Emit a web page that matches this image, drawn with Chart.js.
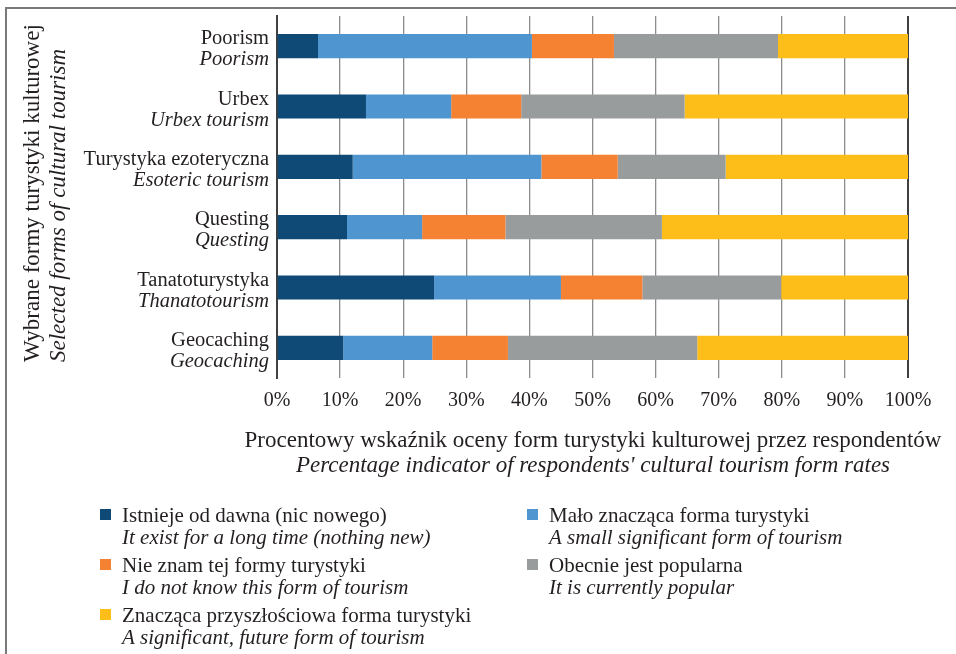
<!DOCTYPE html>
<html>
<head>
<meta charset="utf-8">
<script src="https://cdn.jsdelivr.net/npm/chart.js@4/dist/chart.umd.min.js"></script>
<style>
    html, body { margin: 0; padding: 0; background: #fff; }
</style>
</head>
<body>
<canvas id="formsChart" width="956" height="654"></canvas>
<script>
// Categories (Polish / English)
const categoriesPl = ['Poorism', 'Urbex', 'Turystyka ezoteryczna', 'Questing', 'Tanatoturystyka', 'Geocaching'];
const categoriesEn = ['Poorism', 'Urbex tourism', 'Esoteric tourism', 'Questing', 'Thanatotourism', 'Geocaching'];

// Series values (% of respondents)
const existsLongTime = [6.5, 14.1, 12.0, 11.1, 24.9, 10.5];
const smallSignificant = [33.9, 13.5, 29.9, 11.9, 20.1, 14.1];
const dontKnow = [13.0, 11.1, 12.1, 13.2, 12.9, 12.0];
const currentlyPopular = [26.0, 25.9, 17.1, 24.8, 22.0, 30.0];
const futureForm = [20.6, 35.4, 28.9, 39.0, 20.1, 33.4];

const seriesPl = ['Istnieje od dawna (nic nowego)', 'Mało znacząca forma turystyki', 'Nie znam tej formy turystyki', 'Obecnie jest popularna', 'Znacząca przyszłościowa forma turystyki'];
const seriesEn = ['It exist for a long time (nothing new)', 'A small significant form of tourism', 'I do not know this form of tourism', 'It is currently popular', 'A significant, future form of tourism'];
const seriesColors = ['#0e4a75', '#4f95d0', '#f48232', '#999c9d', '#fdbe19'];

const xTickStep = 10;
const xMax = 100;

const serif = '"Liberation Serif", "Times New Roman", serif';
const textColor = '#231f20';

// draws frame, category labels, axis titles and the two-line legend
const textPlugin = {
    id: 'textPlugin',
    afterDraw(chart) {
        const ctx = chart.ctx;
        const yScale = chart.scales.y;
        const area = chart.chartArea;
        ctx.save();

        // frame
        ctx.strokeStyle = '#7a7a7a';
        ctx.lineWidth = 2;
        ctx.beginPath();
        ctx.moveTo(956, 8);
        ctx.lineTo(6, 8);
        ctx.lineTo(6, 654);
        ctx.stroke();

        ctx.fillStyle = textColor;

        // category labels
        ctx.textAlign = 'right';
        ctx.textBaseline = 'alphabetic';
        categoriesPl.forEach((label, i) => {
            const y = yScale.getPixelForValue(i);
            ctx.font = '20.5px ' + serif;
            ctx.fillText(label, area.left - 8, y - 2);
            ctx.font = 'italic 20.5px ' + serif;
            ctx.fillText(categoriesEn[i], area.left - 8, y + 19);
        });

        // y title
        ctx.save();
        ctx.translate(0, 362);
        ctx.rotate(-Math.PI / 2);
        ctx.textAlign = 'left';
        ctx.font = '23px ' + serif;
        ctx.fillText('Wybrane formy turystyki kulturowej', 0, 39);
        ctx.font = 'italic 23px ' + serif;
        ctx.fillText('Selected forms of cultural tourism', 0, 65);
        ctx.restore();

        // x title
        ctx.textAlign = 'center';
        ctx.font = '23px ' + serif;
        ctx.fillText('Procentowy wskaźnik oceny form turystyki kulturowej przez respondentów', 593, 447);
        ctx.font = 'italic 23px ' + serif;
        ctx.fillText("Percentage indicator of respondents' cultural tourism form rates", 593, 472);

        // legend
        const legendPos = [[100, 522], [527, 522], [100, 572], [527, 572], [100, 622]];
        ctx.textAlign = 'left';
        chart.data.datasets.forEach((ds, i) => {
            const [lx, ly] = legendPos[i];
            ctx.fillStyle = ds.backgroundColor;
            ctx.fillRect(lx, ly - 13, 11, 11);
            ctx.fillStyle = textColor;
            ctx.font = '21px ' + serif;
            ctx.fillText(ds.label, lx + 22, ly);
            ctx.font = 'italic 21px ' + serif;
            ctx.fillText(seriesEn[i], lx + 22, ly + 22);
        });

        ctx.restore();
    }
};

const formsCtx = document.getElementById('formsChart').getContext('2d');
new Chart(formsCtx, {
    type: 'bar',
    data: {
        labels: categoriesPl,
        datasets: [existsLongTime, smallSignificant, dontKnow, currentlyPopular, futureForm].map((values, i) => ({
            label: seriesPl[i],
            data: values,
            backgroundColor: seriesColors[i],
            borderWidth: 0,
            barPercentage: 0.4,
            categoryPercentage: 1,
        })),
    },
    options: {
        indexAxis: 'y',
        responsive: false,
        animation: false,
        devicePixelRatio: 1,
        layout: {
            padding: { top: 16, right: 48, left: 0, bottom: 0 },
        },
        plugins: {
            legend: { display: false },
            tooltip: { enabled: false },
        },
        scales: {
            x: {
                stacked: true,
                min: 0,
                max: xMax,
                afterFit(scale) { scale.height = 276; },
                ticks: {
                    stepSize: xTickStep,
                    callback: (v) => v + '%',
                    font: { family: serif, size: 20 },
                    color: textColor,
                    padding: 11,
                    maxRotation: 0,
                },
                grid: {
                    drawTicks: false,
                    color: (c) => (c.tick && c.tick.value === xMax ? '#404040' : '#8c8c8c'),
                    lineWidth: (c) => (c.tick && c.tick.value === xMax ? 2 : 1.3),
                },
                border: { display: false },
            },
            y: {
                stacked: true,
                afterFit(scale) { scale.width = 277; },
                ticks: { display: false },
                grid: { display: false, drawTicks: false },
                border: { display: true, color: '#404040', width: 2 },
            },
        },
    },
    plugins: [textPlugin],
});
</script>
</body>
</html>
